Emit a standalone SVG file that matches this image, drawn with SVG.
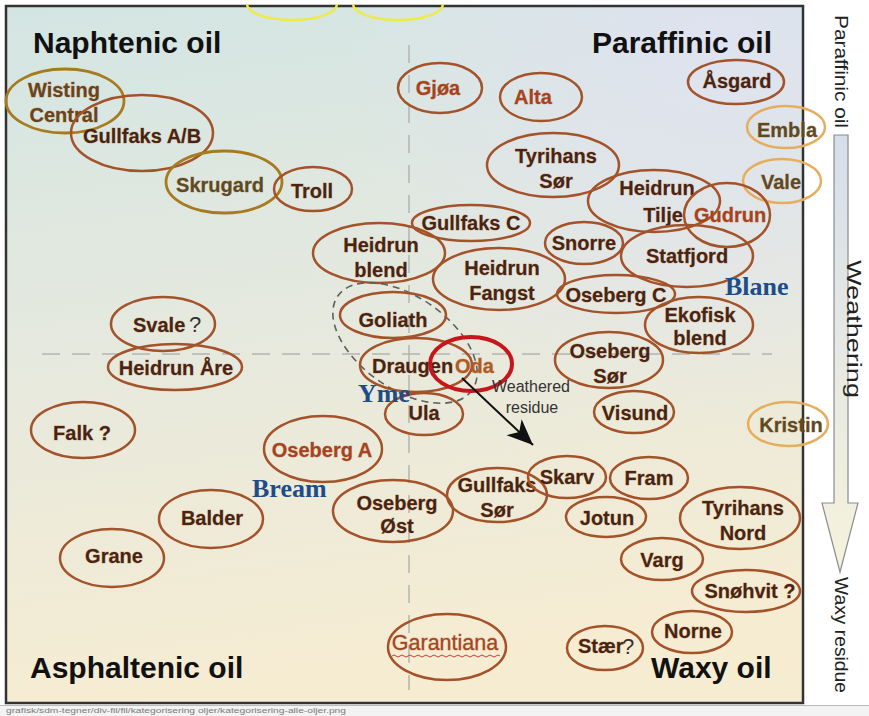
<svg xmlns="http://www.w3.org/2000/svg" width="869" height="716" viewBox="0 0 869 716">
<defs>
<linearGradient id="bg" x1="0" y1="0" x2="0.15" y2="1">
<stop offset="0" stop-color="#d3e5e3"/>
<stop offset="0.5" stop-color="#e6e9de"/>
<stop offset="1" stop-color="#f6ecd2"/>
</linearGradient>
<radialGradient id="tr" cx="720" cy="40" r="380" gradientUnits="userSpaceOnUse">
<stop offset="0" stop-color="#dfe2f2" stop-opacity="0.85"/>
<stop offset="1" stop-color="#dfe2f2" stop-opacity="0"/>
</radialGradient>
<linearGradient id="shaft" x1="0" y1="0" x2="0" y2="1">
<stop offset="0" stop-color="#d6deea"/>
<stop offset="1" stop-color="#f6f3dc"/>
</linearGradient>
<marker id="ah" markerUnits="userSpaceOnUse" markerWidth="30" markerHeight="24" refX="26" refY="11" orient="auto">
<path d="M0,0 L26,11 L0,22 L7,11 Z" fill="#111"/>
</marker>
<style>
.e{fill:none;stroke:#a3522a;stroke-width:2.5}
.eg{fill:none;stroke:#a67b1e;stroke-width:2.8}
.el{fill:none;stroke:#e6ad5e;stroke-width:2.5}
.t{font-family:"Liberation Sans",Arial,sans-serif;font-weight:bold;font-size:20px;fill:#4a2410;text-anchor:middle;stroke:#a87850;stroke-width:0.8;stroke-opacity:0.5;paint-order:stroke}
.r{fill:#a8421c}
.o{fill:#5e4a22}
.q{font-family:"Liberation Sans",Arial,sans-serif;font-size:22px;fill:#333}
.big{font-family:"Liberation Sans",Arial,sans-serif;font-weight:bold;font-size:30px;fill:#111}
.blue{font-family:"Liberation Serif","Times New Roman",serif;font-weight:bold;font-size:26px;fill:#1d4d87}
.side{font-family:"Liberation Sans",Arial,sans-serif;fill:#222}
.guide{stroke:#b4b4b0;stroke-width:1.5;stroke-dasharray:18 12;fill:none}
</style>
</defs>
<rect width="869" height="716" fill="#fff"/>
<rect x="6" y="6" width="797" height="697" fill="url(#bg)"/>
<rect x="6" y="6" width="797" height="697" fill="url(#tr)"/>
<rect x="6" y="6" width="797" height="697" fill="none" stroke="#333" stroke-width="2.5"/>
<path d="M247,4 A45 16 0 0 0 337,4 M353,4 A45 16 0 0 0 443,4" fill="none" stroke="#eeea48" stroke-width="2.5"/>
<line class="guide" x1="409" y1="45" x2="409" y2="690"/>
<line class="guide" x1="42" y1="354" x2="772" y2="354"/>

<text class="big" x="33" y="53">Naphtenic oil</text>
<text class="big" x="592" y="53">Paraffinic oil</text>
<text class="big" x="30" y="678">Asphaltenic oil</text>
<text class="big" x="651" y="678">Waxy oil</text>

<g id="wisting-central"><ellipse class="eg" cx="65" cy="101" rx="59" ry="32"/><text class="t" x="64" y="97" style="fill:#6a4418">Wisting</text><text class="t" x="64" y="122" style="fill:#6a4418">Central</text></g>
<g id="gullfaks-ab"><ellipse class="e" cx="142" cy="133" rx="71" ry="38"/><text class="t" x="142" y="143">Gullfaks A/B</text></g>
<g id="skrugard"><ellipse class="eg" cx="224" cy="182" rx="58" ry="31"/><text class="t o" x="220" y="192">Skrugard</text></g>
<g id="troll"><ellipse class="e" cx="313" cy="189" rx="39" ry="22"/><text class="t" x="312" y="198">Troll</text></g>
<g id="gjoa"><ellipse class="e" cx="440" cy="88" rx="42" ry="25"/><text class="t r" x="438" y="95">Gjøa</text></g>
<g id="alta"><ellipse class="e" cx="541" cy="97" rx="41" ry="24"/><text class="t r" x="533" y="104">Alta</text></g>
<g id="asgard"><ellipse class="e" cx="736" cy="82" rx="48" ry="22"/><text class="t" x="737" y="88">Åsgard</text></g>
<g id="embla"><ellipse class="el" cx="786" cy="127" rx="39" ry="21"/><text class="t o" x="787" y="137">Embla</text></g>
<g id="vale"><ellipse class="el" cx="782" cy="181" rx="39" ry="22"/><text class="t o" x="781" y="189">Vale</text></g>
<g id="tyrihans-sor"><ellipse class="e" cx="553" cy="165" rx="66" ry="32"/><text class="t" x="556" y="163">Tyrihans</text><text class="t" x="556" y="188">Sør</text></g>
<g id="heidrun-tilje"><ellipse class="e" cx="654" cy="201" rx="66" ry="31"/><text class="t" x="657" y="195">Heidrun</text><text class="t" x="663" y="222">Tilje</text></g>
<g id="gudrun"><ellipse class="e" cx="727" cy="215" rx="43" ry="32"/><text class="t r" x="730" y="222">Gudrun</text></g>
<g id="gullfaks-c"><ellipse class="e" cx="471" cy="223" rx="59" ry="18"/><text class="t" x="471" y="230">Gullfaks C</text></g>
<g id="heidrun-blend"><ellipse class="e" cx="379" cy="253" rx="66" ry="30"/><text class="t" x="381" y="252">Heidrun</text><text class="t" x="381" y="277">blend</text></g>
<g id="heidrun-fangst"><ellipse class="e" cx="499" cy="279" rx="66" ry="31"/><text class="t" x="502" y="275">Heidrun</text><text class="t" x="502" y="300">Fangst</text></g>
<g id="snorre"><ellipse class="e" cx="584" cy="243" rx="39" ry="21"/><text class="t" x="584" y="250">Snorre</text></g>
<g id="statfjord"><ellipse class="e" cx="687" cy="256" rx="66" ry="31"/><text class="t" x="687" y="263">Statfjord</text></g>
<g id="oseberg-c"><ellipse class="e" cx="616" cy="294" rx="59" ry="19"/><text class="t" x="616" y="302">Oseberg C</text></g>
<g id="ekofisk-blend"><ellipse class="e" cx="699" cy="325" rx="54" ry="28"/><text class="t" x="700" y="322">Ekofisk</text><text class="t" x="700" y="345">blend</text></g>
<g id="blane"><text class="blue" x="725" y="295">Blane</text></g>

<g id="yme-group"><ellipse cx="405" cy="343" rx="82" ry="46" transform="rotate(35 405 343)" fill="none" stroke="#5a6060" stroke-width="1.6" stroke-dasharray="7 5"/></g>
<g id="goliath"><ellipse class="e" cx="393" cy="315" rx="53" ry="23"/><text class="t" x="393" y="327">Goliath</text></g>
<g id="draugen"><ellipse class="e" cx="416" cy="365" rx="56" ry="27"/><text class="t" x="372" y="373" style="text-anchor:start">Draugen</text></g>
<g id="oda"><ellipse cx="471" cy="364" rx="41" ry="27" fill="none" stroke="#c5161c" stroke-width="4"/><text class="t" x="455" y="373" style="text-anchor:start;fill:#b35a1e">Oda</text></g>
<g id="ula"><ellipse class="e" cx="424" cy="414" rx="39" ry="21"/><text class="t" x="424" y="420">Ula</text></g>
<g id="yme"><text class="blue" x="358" y="402">Yme</text></g>

<g id="oseberg-sor"><ellipse class="e" cx="609" cy="360" rx="54" ry="28"/><text class="t" x="610" y="358">Oseberg</text><text class="t" x="610" y="383">Sør</text></g>
<g id="visund"><ellipse class="e" cx="634" cy="412" rx="40" ry="21"/><text class="t" x="635" y="420">Visund</text></g>
<g id="kristin"><ellipse class="el" cx="788" cy="424" rx="40" ry="22"/><text class="t o" x="791" y="432">Kristin</text></g>
<g id="svale"><ellipse class="e" cx="163" cy="324" rx="52" ry="27"/><text class="t" x="133" y="332" style="text-anchor:start">Svale</text><text class="q" x="189" y="332">?</text></g>
<g id="heidrun-are"><ellipse class="e" cx="175" cy="367" rx="67" ry="23"/><text class="t" x="176" y="375">Heidrun Åre</text></g>
<g id="falk"><ellipse class="e" cx="83" cy="430" rx="52" ry="28"/><text class="t" x="82" y="440">Falk ?</text></g>
<g id="oseberg-a"><ellipse class="e" cx="323" cy="449" rx="59" ry="33"/><text class="t r" x="322" y="457">Oseberg A</text></g>
<g id="bream"><text class="blue" x="252" y="497">Bream</text></g>
<g id="balder"><ellipse class="e" cx="211" cy="519" rx="52" ry="29"/><text class="t" x="212" y="525">Balder</text></g>
<g id="grane"><ellipse class="e" cx="112" cy="558" rx="52" ry="29"/><text class="t" x="114" y="563">Grane</text></g>
<g id="oseberg-ost"><ellipse class="e" cx="393" cy="511" rx="60" ry="31"/><text class="t" x="397" y="510">Oseberg</text><text class="t" x="397" y="533">Øst</text></g>
<g id="gullfaks-sor"><ellipse class="e" cx="497" cy="495" rx="50" ry="27"/><text class="t" x="497" y="492">Gullfaks</text><text class="t" x="497" y="517">Sør</text></g>
<g id="skarv"><ellipse class="e" cx="567" cy="477" rx="39" ry="21"/><text class="t" x="567" y="484">Skarv</text></g>
<g id="fram"><ellipse class="e" cx="649" cy="478" rx="39" ry="21"/><text class="t" x="649" y="485">Fram</text></g>
<g id="jotun"><ellipse class="e" cx="606" cy="517" rx="40" ry="20"/><text class="t" x="607" y="525">Jotun</text></g>
<g id="tyrihans-nord"><ellipse class="e" cx="740" cy="518" rx="60" ry="31"/><text class="t" x="743" y="515">Tyrihans</text><text class="t" x="743" y="540">Nord</text></g>
<g id="varg"><ellipse class="e" cx="662" cy="559" rx="41" ry="21"/><text class="t" x="662" y="567">Varg</text></g>
<g id="snohvit"><ellipse class="e" cx="746" cy="591" rx="54" ry="21"/><text class="t" x="750" y="598">Snøhvit ?</text></g>
<g id="norne"><ellipse class="e" cx="692" cy="632" rx="40" ry="21"/><text class="t" x="693" y="638">Norne</text></g>
<g id="staer"><ellipse class="e" cx="605" cy="648" rx="38" ry="22"/><text class="t" x="578" y="653" style="text-anchor:start">Stær</text><text class="q" x="622" y="654">?</text></g>
<g id="garantiana"><ellipse class="e" cx="447" cy="647" rx="59" ry="33"/><text class="t r" x="445" y="650" style="font-weight:normal;font-size:21.5px;stroke-width:0.9">Garantiana</text><path d="M392,656 q2,-2 4,0 t4,0 t4,0 t4,0 t4,0 t4,0 t4,0 t4,0 t4,0 t4,0 t4,0 t4,0 t4,0 t4,0 t4,0 t4,0 t4,0 t4,0 t4,0 t4,0 t4,0 t4,0 t4,0 t4,0 t4,0 t4,0 t4,0" fill="none" stroke="#d23a3a" stroke-width="1"/></g>

<g id="connectors">
<line x1="462" y1="378" x2="533" y2="445" stroke="#111" stroke-width="2" marker-end="url(#ah)"/>
</g>
<g id="weathered-label"><text class="side" x="531" y="392" style="font-size:16px;text-anchor:middle;fill:#333">Weathered</text><text class="side" x="532" y="413" style="font-size:16px;text-anchor:middle;fill:#333">residue</text></g>

<g id="weathering-axis">
<path d="M834,135 H848 V503 H858 L840,572 L822,503 H834 Z" fill="url(#shaft)" stroke="#8a8c90" stroke-width="1.2"/>
<text class="side" transform="translate(835,15) rotate(90)" x="0" y="0" style="font-size:19px" textLength="113" lengthAdjust="spacingAndGlyphs">Paraffinic oil</text>
<text class="side" transform="translate(847,260) rotate(90)" x="0" y="0" style="font-size:20px" textLength="138" lengthAdjust="spacingAndGlyphs">Weathering</text>
<text class="side" transform="translate(835,577) rotate(90)" x="0" y="0" style="font-size:18px" textLength="116" lengthAdjust="spacingAndGlyphs">Waxy residue</text>
</g>

<rect x="0" y="705" width="869" height="11" fill="#f3f3f3"/>
<line x1="0" y1="705.5" x2="869" y2="705.5" stroke="#bbb" stroke-width="1"/>
<text x="6" y="713" style="font-family:'Liberation Sans',Arial,sans-serif;font-size:8px;fill:#7a7a7a" textLength="340" lengthAdjust="spacingAndGlyphs">grafisk/sdm-tegner/div-fil/fil/kategorisering oljer/kategorisering-alle-oljer.png</text>
</svg>
